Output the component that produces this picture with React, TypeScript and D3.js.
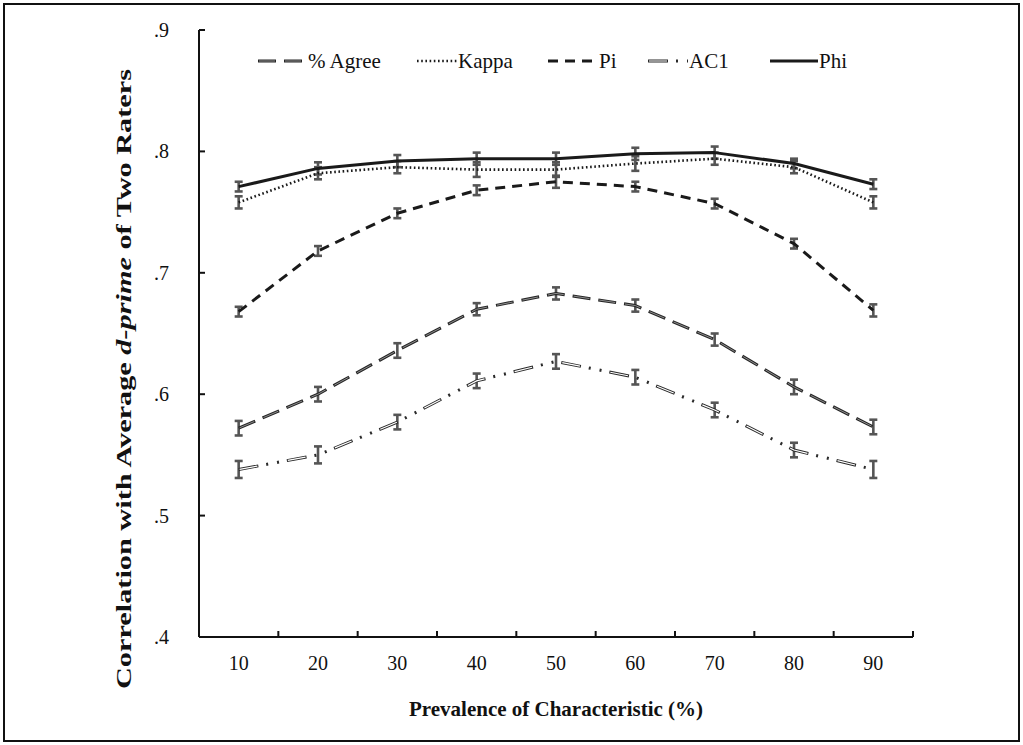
import React from "react";
import * as d3 from "d3";

// prevalence categories (%)
const categories = ["10", "20", "30", "40", "50", "60", "70", "80", "90"];

// correlations
const agreeValues = [0.572, 0.6, 0.636, 0.67, 0.683, 0.673, 0.645, 0.606, 0.573];
const kappaValues = [0.758, 0.782, 0.787, 0.785, 0.785, 0.79, 0.794, 0.787, 0.758];
const piValues = [0.668, 0.718, 0.749, 0.768, 0.775, 0.771, 0.757, 0.724, 0.669];
const ac1Values = [0.538, 0.55, 0.577, 0.611, 0.627, 0.614, 0.587, 0.554, 0.538];
const phiValues = [0.771, 0.786, 0.792, 0.794, 0.794, 0.798, 0.799, 0.79, 0.773];

// error bar half widths
const agreeErrors = [0.006, 0.006, 0.006, 0.005, 0.005, 0.005, 0.005, 0.006, 0.006];
const kappaErrors = [0.005, 0.005, 0.005, 0.006, 0.006, 0.006, 0.005, 0.005, 0.005];
const piErrors = [0.004, 0.004, 0.004, 0.004, 0.005, 0.004, 0.004, 0.004, 0.005];
const ac1Errors = [0.007, 0.007, 0.006, 0.006, 0.006, 0.006, 0.006, 0.006, 0.007];
const phiErrors = [0.004, 0.005, 0.005, 0.005, 0.005, 0.005, 0.005, 0.004, 0.004];

const yTicks = [0.4, 0.5, 0.6, 0.7, 0.8, 0.9];
const yTickLabels = [".4", ".5", ".6", ".7", ".8", ".9"];

const seriesNames = ["% Agree", "Kappa", "Pi", "AC1", "Phi"];

const FONT = "'Liberation Serif', 'Times New Roman', serif";

export default function App() {
  const plot = { left: 199, top: 30, right: 913, bottom: 637 };

  const x = d3
    .scaleBand()
    .domain(categories)
    .range([plot.left, plot.right])
    .paddingInner(0)
    .paddingOuter(0);

  const y = d3.scaleLinear().domain([0.4, 0.9]).range([plot.bottom, plot.top]);

  const cx = (c) => x(c) + x.bandwidth() / 2;

  const line = d3
    .line()
    .x((d) => cx(d.cat))
    .y((d) => y(d.v));

  const toPoints = (vals, errs) =>
    categories.map((c, i) => ({ cat: c, v: vals[i], e: errs[i] }));

  // base stroke + optional inner stroke for the "double line" look
  const series = [
    {
      name: seriesNames[0],
      pts: toPoints(agreeValues, agreeErrors),
      base: { stroke: "#262626", width: 3, dash: "18 8" },
      inner: { stroke: "#a8a8a8", width: 0.8, dash: "0 1 16 9" },
    },
    {
      name: seriesNames[1],
      pts: toPoints(kappaValues, kappaErrors),
      base: { stroke: "#1a1a1a", width: 2.6, dash: "1.6 2.6" },
    },
    {
      name: seriesNames[2],
      pts: toPoints(piValues, piErrors),
      base: { stroke: "#1a1a1a", width: 3, dash: "10 7" },
    },
    {
      name: seriesNames[3],
      pts: toPoints(ac1Values, ac1Errors),
      base: { stroke: "#2a2a2a", width: 3, dash: "20 8 2 9 2 8" },
      inner: { stroke: "#ffffff", width: 1.2, dash: "0 1 18 30" },
    },
    {
      name: seriesNames[4],
      pts: toPoints(phiValues, phiErrors),
      base: { stroke: "#1a1a1a", width: 3, dash: null },
    },
  ];

  // legend: sample start x and length
  const legendX = [258, 417, 548, 648, 770];
  const legendLen = [49, 40, 50, 40, 48];
  const legendY = 61;

  const drawPath = (d, s, key) => [
    <path
      key={key + "b"}
      d={d}
      fill="none"
      stroke={s.base.stroke}
      strokeWidth={s.base.width}
      strokeDasharray={s.base.dash || undefined}
      strokeLinejoin="round"
    />,
    s.inner ? (
      <path
        key={key + "i"}
        d={d}
        fill="none"
        stroke={s.inner.stroke}
        strokeWidth={s.inner.width}
        strokeDasharray={s.inner.dash}
      />
    ) : null,
  ];

  const capW = 4;
  const errColor = "#555555";

  return (
    <svg
      width={1023}
      height={745}
      style={{ position: "absolute", left: 0, top: 0, background: "#fff" }}
      fontFamily={FONT}
    >
      {/* outer frame */}
      <rect x={4} y={4} width={1015} height={737} fill="#fff" stroke="#111" strokeWidth={2} />

      {/* error bars */}
      {series.map((s, si) =>
        s.pts.map((p, i) => (
          <g key={`e${si}-${i}`} stroke={errColor} strokeWidth={2.6}>
            <line x1={cx(p.cat)} x2={cx(p.cat)} y1={y(p.v - p.e)} y2={y(p.v + p.e)} />
            <line x1={cx(p.cat) - capW} x2={cx(p.cat) + capW} y1={y(p.v - p.e)} y2={y(p.v - p.e)} />
            <line x1={cx(p.cat) - capW} x2={cx(p.cat) + capW} y1={y(p.v + p.e)} y2={y(p.v + p.e)} />
          </g>
        ))
      )}

      {/* lines */}
      {series.map((s, si) => drawPath(line(s.pts), s, `l${si}`))}

      {/* axes */}
      <line x1={plot.left} x2={plot.left} y1={plot.top} y2={plot.bottom} stroke="#111" strokeWidth={2} />
      <line x1={plot.left} x2={plot.right} y1={plot.bottom} y2={plot.bottom} stroke="#111" strokeWidth={2} />
      {yTicks.map((t, i) => (
        <g key={`yt${i}`}>
          <line x1={plot.left} x2={plot.left + 6} y1={y(t)} y2={y(t)} stroke="#111" strokeWidth={2} />
          <text x={169} y={y(t)} dy="0.35em" textAnchor="end" fontSize={20} fontFamily={FONT} fill="#111">
            {yTickLabels[i]}
          </text>
        </g>
      ))}
      {categories.map((c) => (
        <g key={`xt${c}`}>
          <line
            x1={x(c) + x.bandwidth()}
            x2={x(c) + x.bandwidth()}
            y1={plot.bottom}
            y2={plot.bottom - 6}
            stroke="#111"
            strokeWidth={2}
          />
          <text x={cx(c)} y={670} textAnchor="middle" fontSize={20} fontFamily={FONT} fill="#111">
            {c}
          </text>
        </g>
      ))}

      {/* axis titles */}
      <text x={556} y={716} textAnchor="middle" fontSize={21} fontWeight="bold" fontFamily={FONT} fill="#111">
        Prevalence of Characteristic (%)
      </text>
      <text
        transform={`translate(131,379) rotate(-90)`}
        textAnchor="middle"
        fontSize={22}
        fontWeight="bold"
        fontFamily={FONT}
        fill="#111"
        textLength={620}
        lengthAdjust="spacingAndGlyphs"
      >
        Correlation with Average <tspan fontStyle="italic">d-prime</tspan> of Two Raters
      </text>

      {/* legend */}
      {series.map((s, si) => {
        const x0 = legendX[si];
        const x1 = x0 + legendLen[si];
        const d = `M${x0},${legendY}L${x1},${legendY}`;
        return (
          <g key={`lg${si}`}>
            {drawPath(d, s, `lg${si}`)}
            <text x={x1 + 1} y={legendY} dy="0.33em" fontSize={21} fontFamily={FONT} fill="#111">
              {s.name}
            </text>
          </g>
        );
      })}
    </svg>
  );
}
